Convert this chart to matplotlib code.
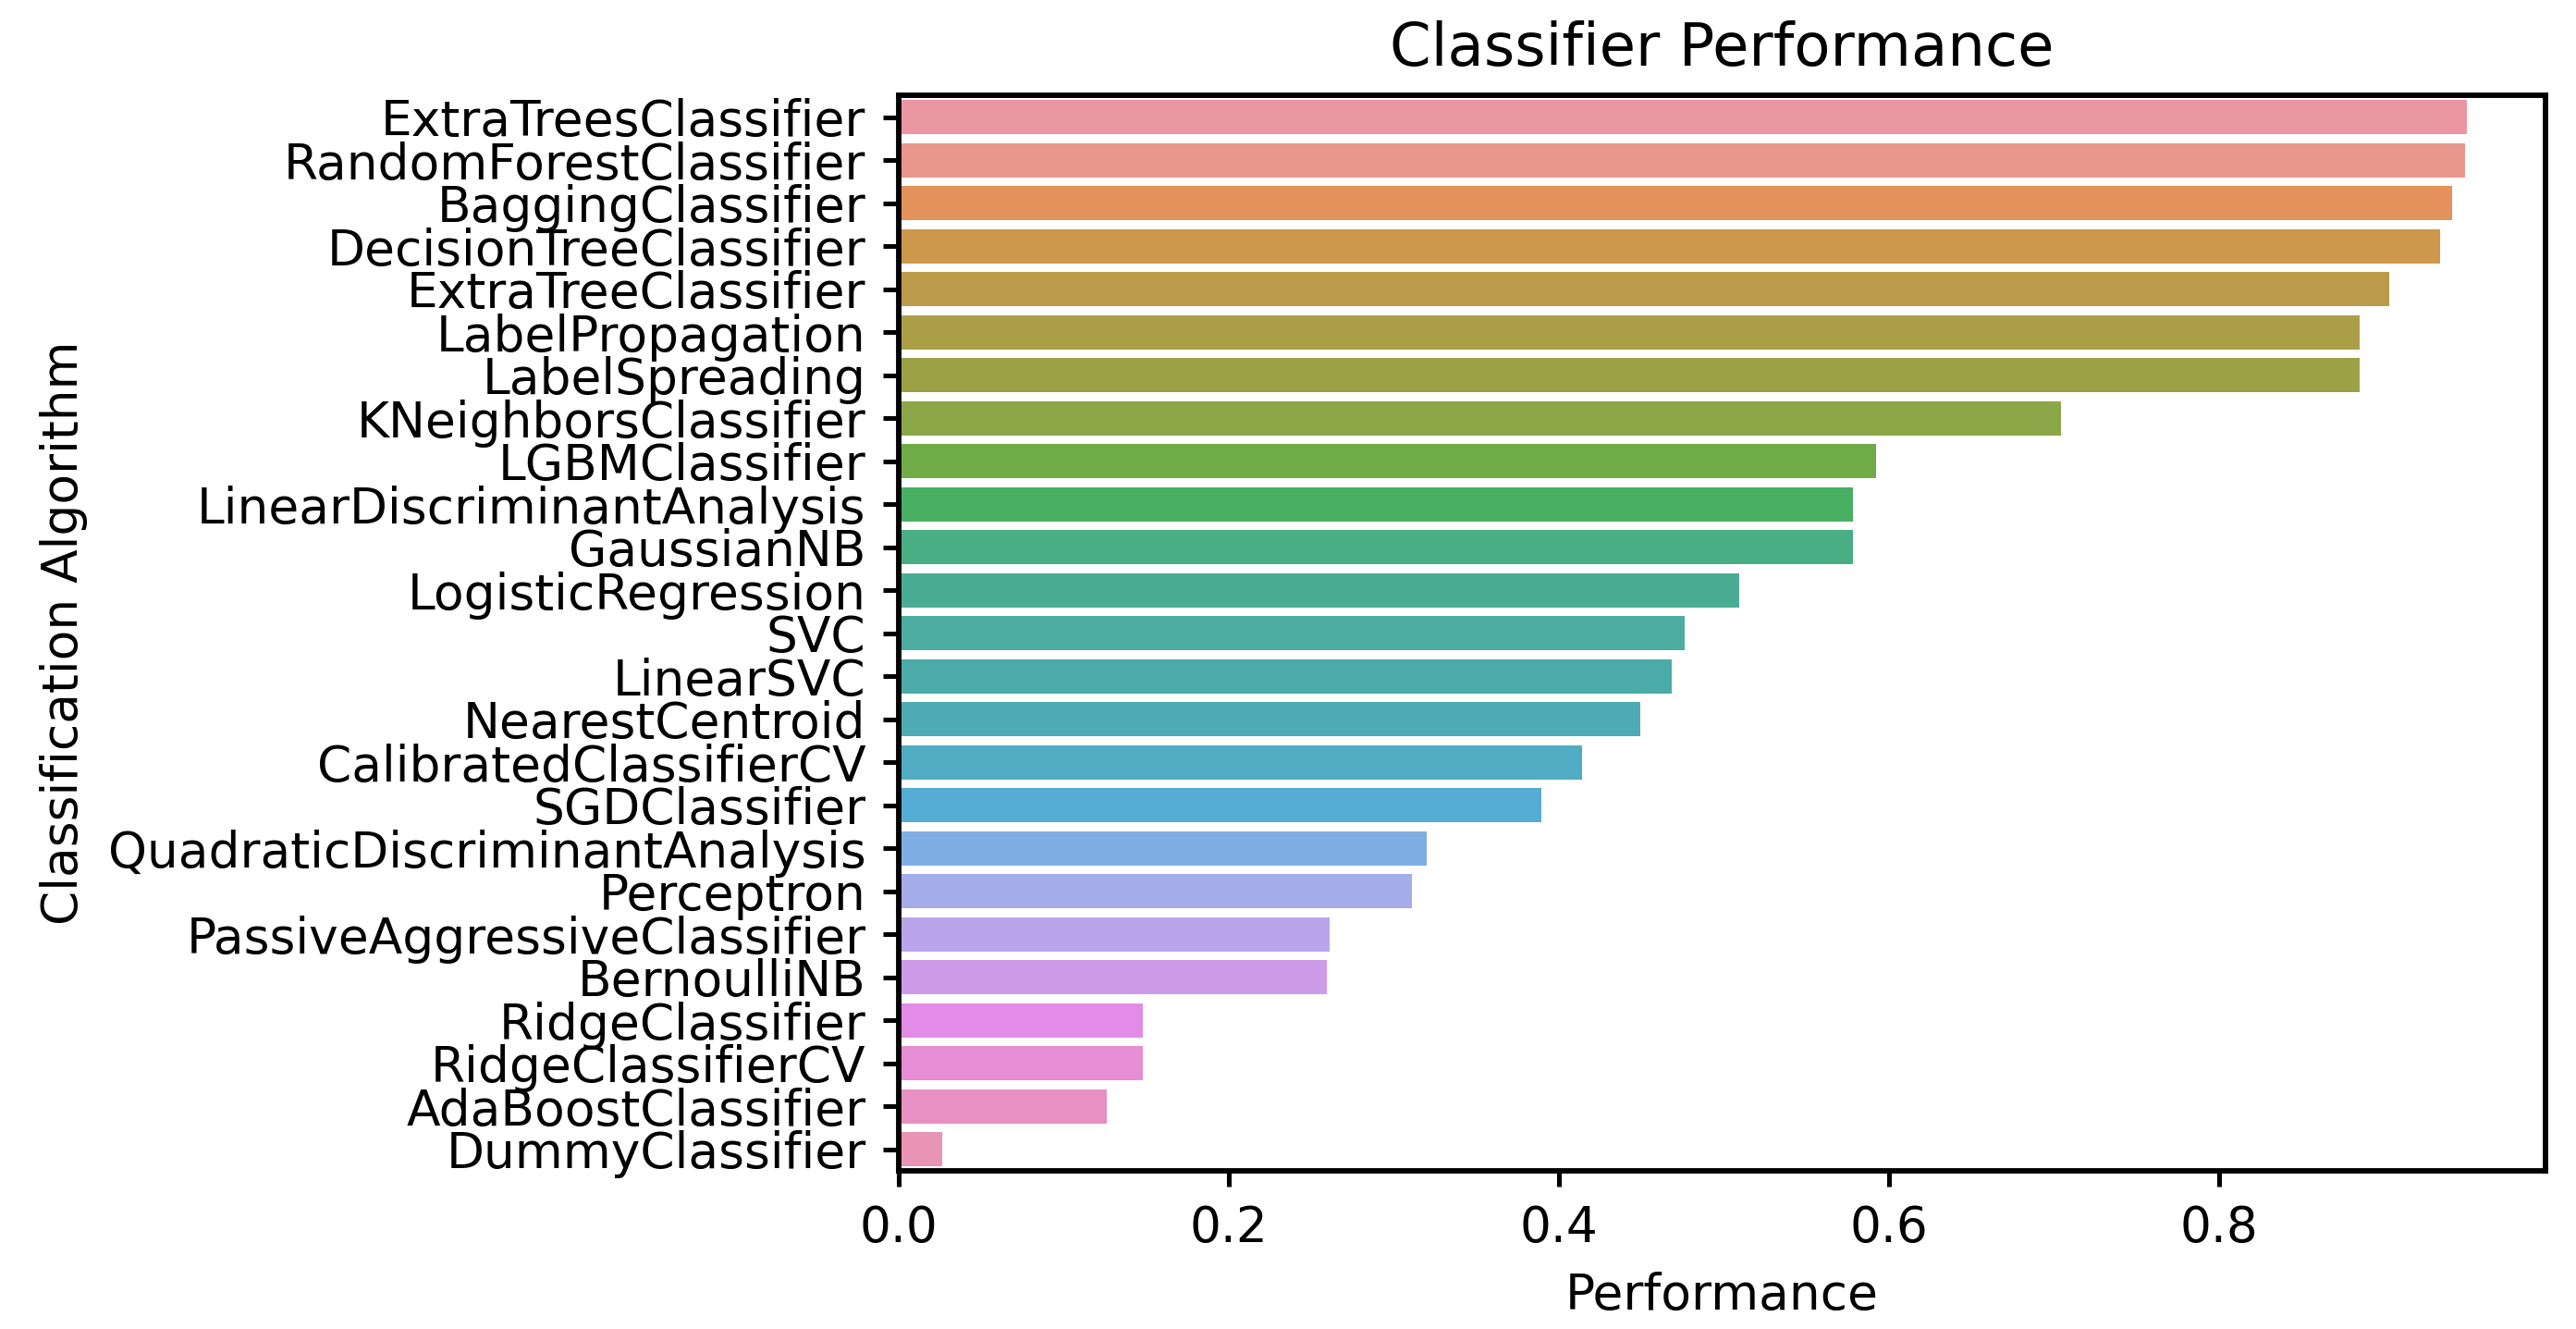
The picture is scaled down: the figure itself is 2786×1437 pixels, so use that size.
import matplotlib
matplotlib.use("Agg")
import matplotlib.pyplot as plt
import seaborn as sns

classifiers = ['ExtraTreesClassifier', 'RandomForestClassifier', 'BaggingClassifier',
               'DecisionTreeClassifier', 'ExtraTreeClassifier', 'LabelPropagation',
               'LabelSpreading', 'KNeighborsClassifier', 'LGBMClassifier',
               'LinearDiscriminantAnalysis', 'GaussianNB', 'LogisticRegression', 'SVC',
               'LinearSVC', 'NearestCentroid', 'CalibratedClassifierCV', 'SGDClassifier',
               'QuadraticDiscriminantAnalysis', 'Perceptron', 'PassiveAggressiveClassifier',
               'BernoulliNB', 'RidgeClassifier', 'RidgeClassifierCV', 'AdaBoostClassifier',
               'DummyClassifier']
performance = [0.950, 0.949, 0.941, 0.934, 0.903, 0.885, 0.885, 0.704, 0.592,
               0.578, 0.578, 0.509, 0.476, 0.468, 0.449, 0.414, 0.389, 0.320,
               0.311, 0.261, 0.259, 0.148, 0.148, 0.126, 0.026]

pal = sns.husl_palette(len(classifiers), l=0.7, s=0.9)

fig, ax = plt.subplots(figsize=(2786/384, 1437/384), dpi=384)
sns.barplot(x=performance, y=classifiers, hue=classifiers, palette=pal,
            saturation=0.75, legend=False, ax=ax)
ax.set_title('Classifier Performance', fontsize=12)
ax.set_xlabel('Performance')
ax.set_ylabel('Classification Algorithm')
for s in ax.spines.values():
    s.set_linewidth(1.1)
ax.tick_params(width=0.95, length=3.2)
fig.subplots_adjust(left=0.349, right=0.988, top=0.928, bottom=0.119)
fig.savefig('out.png', dpi=384)
